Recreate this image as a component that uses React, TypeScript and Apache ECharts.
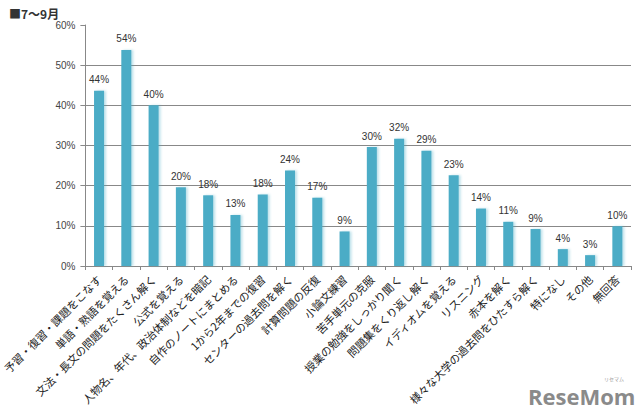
import React, { useEffect, useRef } from "react";
import * as echarts from "echarts";

const categories = [
  "予習・復習・課題をこなす",
  "単語・熟語を覚える",
  "文法・長文の問題をたくさん解く",
  "公式を覚える",
  "人物名、年代、政治体制などを暗記",
  "自作のノートにまとめる",
  "1から2年までの復習",
  "センターの過去問を解く",
  "計算問題の反復",
  "小論文練習",
  "苦手単元の克服",
  "授業の勉強をしっかり聞く",
  "問題集をくり返し解く",
  "イディオムを覚える",
  "リスニング",
  "赤本を解く",
  "様々な大学の過去問をひたすら解く",
  "特になし",
  "その他",
  "無回答",
];

const values = [43.6, 53.8, 40.0, 19.6, 17.6, 12.7, 17.8, 23.8, 17.0, 8.6, 29.6, 31.7, 28.7, 22.6, 14.3, 11.0, 9.2, 4.2, 2.7, 9.9];

const labelValues = [44, 54, 40, 20, 18, 13, 18, 24, 17, 9, 30, 32, 29, 23, 14, 11, 9, 4, 3, 10];

const gridValues = [10, 20, 30, 40, 50];

const titleText = "■7〜9月";

export default function App() {
  const ref = useRef<HTMLDivElement>(null);
  useEffect(() => {
    document.body.style.margin = "0";
    if (!ref.current) return;
    const chart = echarts.init(ref.current, null, { renderer: "svg" });
    const font = "'Noto Sans CJK JP', 'Noto Sans', sans-serif";
    chart.setOption({
      animation: false,
      backgroundColor: "#ffffff",
      grid: { left: 73, right: 9, top: 25, bottom: 153, containLabel: false },
      title: {
        text: titleText,
        left: 4,
        top: 2,
        textStyle: { fontSize: 12, fontWeight: "bold", color: "#333", fontFamily: font },
      },
      graphic: [
        {
          type: "text",
          left: 528,
          top: 385,
          style: {
            text: "ReseMom",
            fontSize: 22,
            fontWeight: "bold",
            fill: "#8a8a8a",
            fontFamily: "'Open Sans', 'DejaVu Sans', sans-serif",
          },
        },
        {
          type: "text",
          left: 604,
          top: 376,
          style: { text: "リセマム", fontSize: 5, fill: "#999", fontFamily: font },
        },
      ],
      xAxis: {
        type: "category",
        data: categories,
        axisLine: { lineStyle: { color: "#888", width: 1 } },
        axisTick: { show: true, length: 4, lineStyle: { color: "#888" } },
        axisLabel: {
          rotate: 45,
          interval: 0,
          margin: 11,
          fontSize: 11,
          color: "#222",
          fontFamily: font,
        },
      },
      yAxis: {
        type: "value",
        min: 0,
        max: 60,
        interval: 10,
        axisLine: { show: true, lineStyle: { color: "#888", width: 1 } },
        axisTick: { show: true, length: 5, lineStyle: { color: "#888" } },
        splitLine: { show: false },
        axisLabel: {
          formatter: "{value}%",
          fontSize: 10,
          color: "#444",
          margin: 10,
          fontFamily: "'Liberation Sans', Arial, sans-serif",
        },
      },
      series: [
        {
          type: "bar",
          data: values,
          barWidth: 10,
          itemStyle: {
            color: "#4bacc6",
            shadowColor: "rgba(75,172,198,0.35)",
            shadowBlur: 2,
            shadowOffsetX: 2,
            shadowOffsetY: 0,
          },
          label: {
            show: true,
            position: "top",
            distance: 6,
            fontSize: 10,
            color: "#333",
            fontFamily: "'Liberation Sans', Arial, sans-serif",
            formatter: (p: any) => labelValues[p.dataIndex] + "%",
          },
          markLine: {
            silent: true,
            symbol: "none",
            label: { show: false },
            lineStyle: { color: "#888", width: 1, type: "solid" },
            data: gridValues.map((v) => ({ yAxis: v })),
            z: 0,
          },
        },
      ],
    });
    return () => chart.dispose();
  }, []);
  return <div ref={ref} style={{ width: 640, height: 419 }} />;
}
